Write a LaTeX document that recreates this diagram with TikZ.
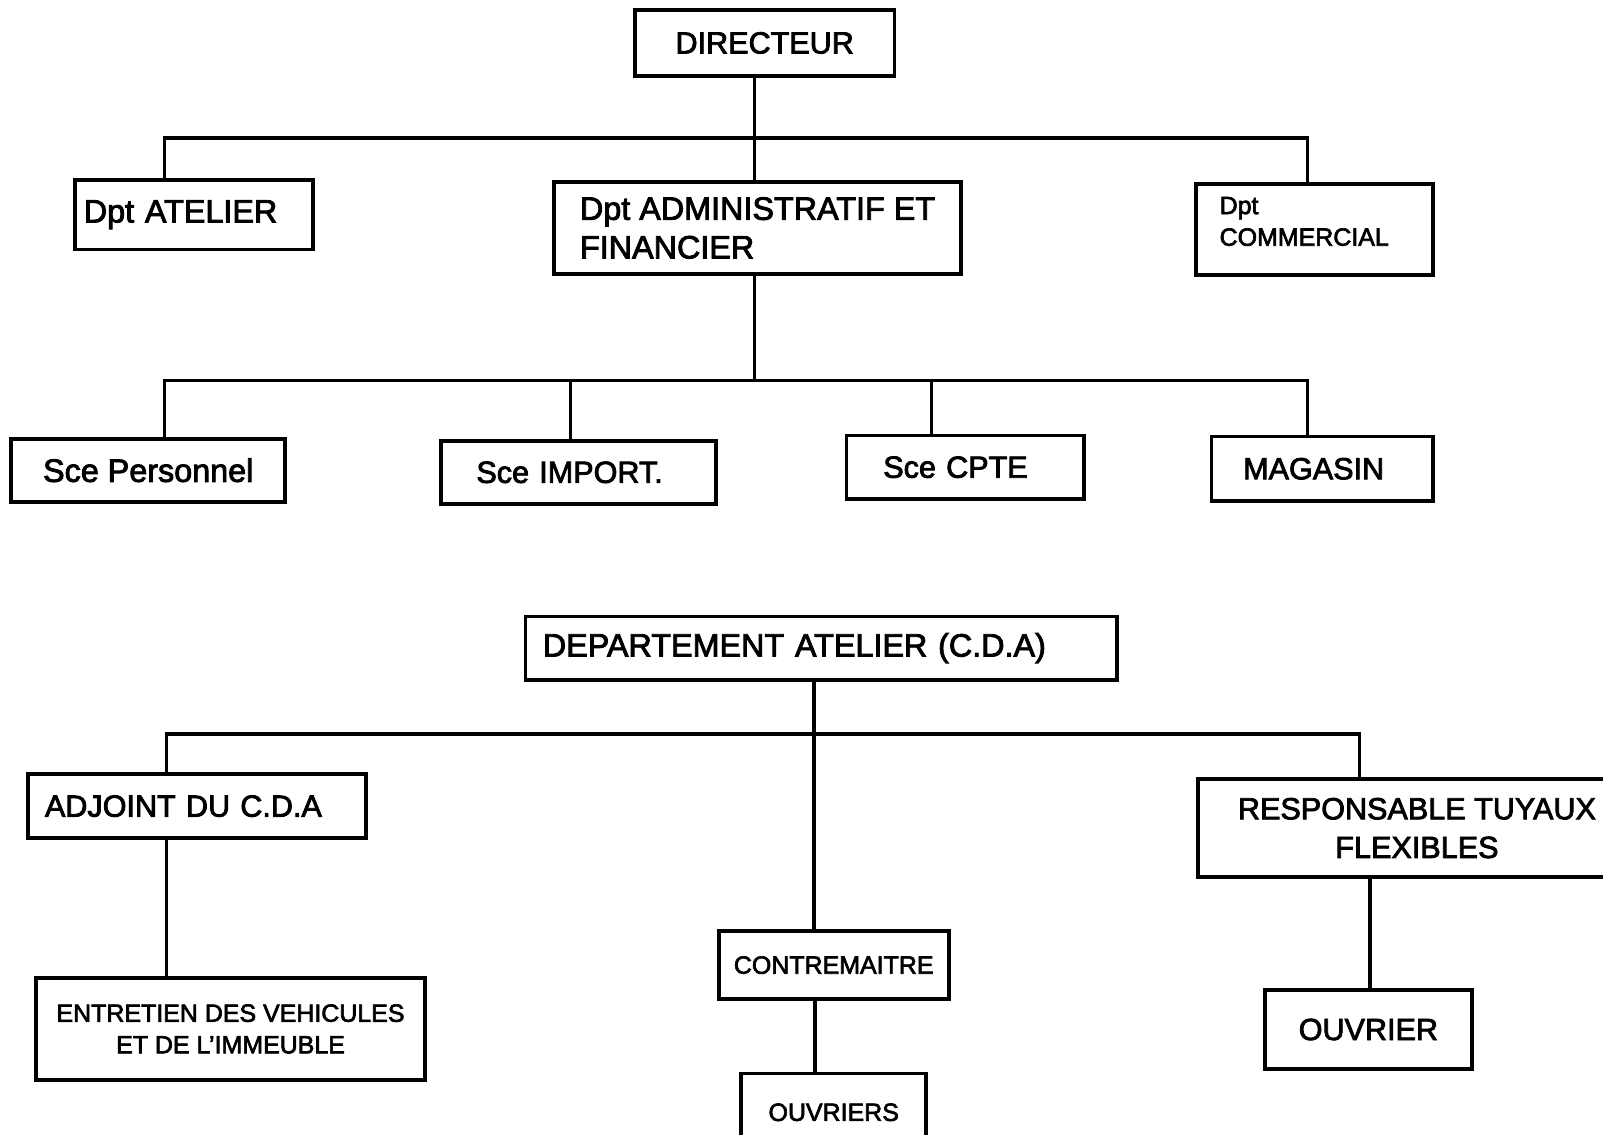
\documentclass[tikz,border=0pt]{standalone}
\usepackage{fontspec}
\setmainfont{Liberation Sans}[FakeBold=2.6]
\newlength\pxl
\setlength\pxl{0.010223cm}
\newcommand\fsA{\fontsize{9.2}{11}\selectfont}
\newcommand\fsB{\fontsize{8.7}{11}\selectfont}
\newcommand\fsC{\fontsize{7.1}{9}\selectfont}
\begin{document}
\begin{tikzpicture}[x=0.010223cm,y=-0.010223cm,
  box/.style={draw,line width=1.1pt,inner sep=0pt,outer sep=0pt},
  link/.style={line width=1pt}]
\useasboundingbox (0,0) rectangle (1568,1110);
\clip (0,0) rectangle (1568,1110);

% top chart
\node[box,minimum width=254\pxl,minimum height=64\pxl,font=\fsB] (dir) at (748,42) {DIRECTEUR};
\node[box,minimum width=233\pxl,minimum height=68\pxl,text width=215\pxl,align=left,font=\fsA] (atel) at (189.5,210) {Dpt ATELIER};
\node[box,minimum width=398\pxl,minimum height=90\pxl,align=left,font=\fsA] (admin) at (741,223) {Dpt ADMINISTRATIF ET\\FINANCIER};
\node[box,minimum width=232\pxl,minimum height=89\pxl,text width=186\pxl,text depth=47\pxl,align=left,font=\fsC] (comm) at (1286,224.5) {Dpt\\COMMERCIAL};
\node[box,minimum width=268\pxl,minimum height=62\pxl,font=\fsA] (pers) at (145,460) {Sce Personnel};
\node[box,minimum width=269\pxl,minimum height=62\pxl,text width=199\pxl,align=left,font=\fsB] (imp) at (565.5,462) {Sce IMPORT.};
\node[box,minimum width=232\pxl,minimum height=62\pxl,text width=160\pxl,align=left,font=\fsB] (cpte) at (944,457) {Sce CPTE};
\node[box,minimum width=217\pxl,minimum height=63\pxl,text width=155\pxl,align=left,font=\fsB] (mag) at (1293.5,458.5) {MAGASIN};

\coordinate (j1L) at (161,135);
\coordinate (j1R) at (1279,135);
\draw[link] (dir.south -| 738,0) -- (admin.north -| 738,0);
\draw[link] (atel.north -| j1L) -- (j1L) -- (j1R) -- (comm.north -| j1R);

\coordinate (j2L) at (161,372);
\coordinate (j2M) at (738,372);
\coordinate (j2a) at (558,372);
\coordinate (j2b) at (911,372);
\coordinate (j2R) at (1279,372);
\draw[link] (admin.south -| j2M) -- (j2M);
\draw[link] (pers.north -| j2L) -- (j2L) -- (j2R) -- (mag.north -| j2R);
\draw[link] (j2a) -- (imp.north -| j2a);
\draw[link] (j2b) -- (cpte.north -| j2b);

% bottom chart
\node[box,minimum width=579\pxl,minimum height=62\pxl,text width=545\pxl,align=left,font=\fsA] (dep) at (803.5,634) {DEPARTEMENT ATELIER (C.D.A)};
\node[box,minimum width=331\pxl,minimum height=63\pxl,text width=297\pxl,align=left,font=\fsB] (adj) at (192.5,788.5) {ADJOINT DU C.D.A};
\node[box,minimum width=381\pxl,minimum height=99\pxl,align=center,font=\fsC] (ent) at (225.5,1006.5) {ENTRETIEN DES VEHICULES\\ET DE L'IMMEUBLE};
\node[box,minimum width=428\pxl,minimum height=96\pxl,align=center,font=\fsB] (resp) at (1386,810) {RESPONSABLE TUYAUX\\FLEXIBLES};
\node[box,minimum width=225\pxl,minimum height=66\pxl,font=\fsC] (contre) at (815.5,944) {CONTREMAITRE};
\node[box,minimum width=181\pxl,minimum height=76\pxl,font=\fsC] (ouvs) at (815.5,1088) {OUVRIERS};
\node[box,minimum width=203\pxl,minimum height=78\pxl,font=\fsB] (ouv) at (1338.5,1007) {OUVRIER};

\coordinate (j3L) at (163,718);
\coordinate (j3M) at (796,718);
\coordinate (j3R) at (1330,718);
\draw[link] (dep.south -| j3M) -- (contre.north -| j3M);
\draw[link] (adj.north -| j3L) -- (j3L) -- (j3R) -- (resp.north -| j3R);
\draw[link] (adj.south -| j3L) -- (ent.north -| j3L);
\draw[link] (resp.south -| 1340,0) -- (ouv.north -| 1340,0);
\draw[link] (contre.south -| 797,0) -- (ouvs.north -| 797,0);
\end{tikzpicture}
\end{document}
